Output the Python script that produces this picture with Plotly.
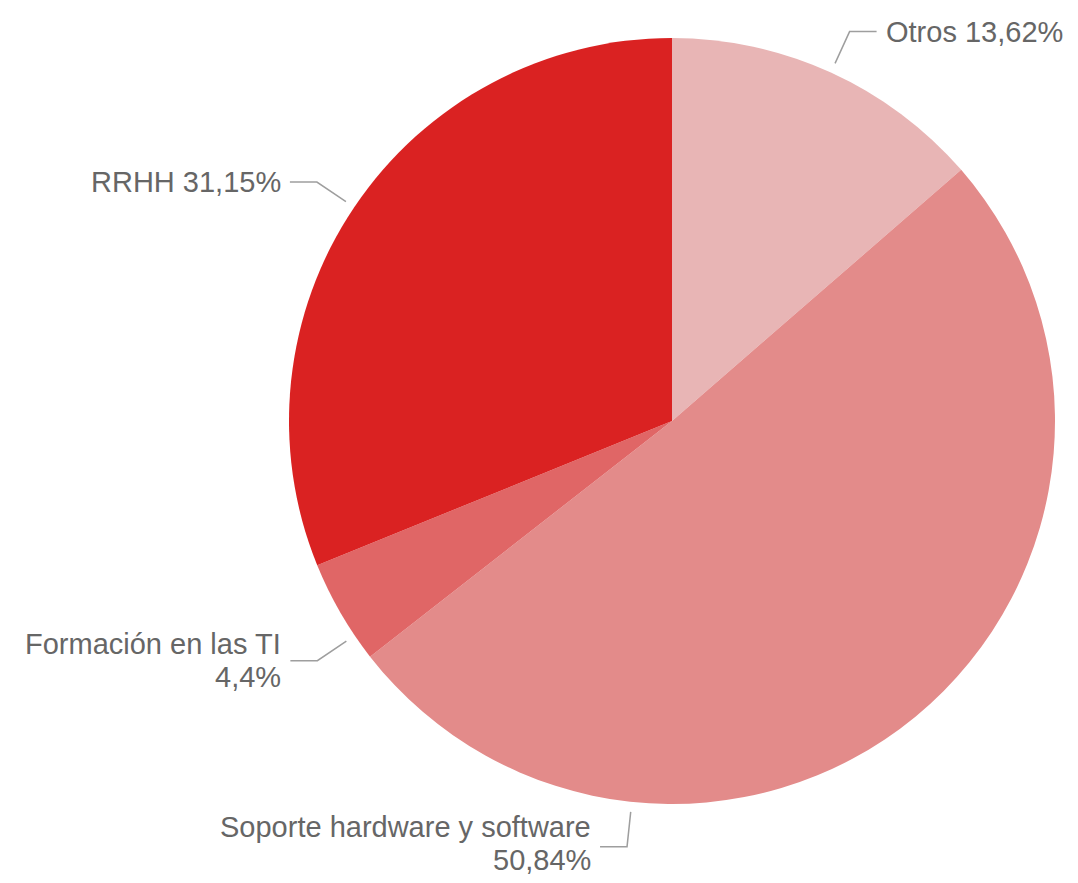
import math
import plotly.graph_objects as go

labels = ["Otros", "Soporte hardware y software", "Formación en las TI", "RRHH"]
values = [13.62, 50.84, 4.4, 31.15]
value_text = ["13,62%", "50,84%", "4,4%", "31,15%"]
colors = ["#e8b5b5", "#e38b8a", "#e06666", "#da2222"]
# label text layout: one line or two lines
label_lines = [1, 2, 2, 1]
# angular offset (degrees) of the leader line from the slice middle
label_angle_shift = [0, 45.5, -4, 0]
# small vertical nudge of the label text (px)
label_text_nudge = [0, -3, 0, 0]

PAGE_MARGIN = 8  # default body margin of the html page
W, H = 1078 - 2 * PAGE_MARGIN, 883 - 2 * PAGE_MARGIN
CX, CY, R = 672 - PAGE_MARGIN, 421 - PAGE_MARGIN, 383
LINE_GAP = 33
FONT = dict(family="Liberation Sans, Arial, sans-serif", size=29, color="#666666")

dom_x = [(CX - R) / W, (CX + R) / W]
dom_y = [1 - (CY + R) / H, 1 - (CY - R) / H]

fig = go.Figure(go.Pie(
    labels=labels, values=values, sort=False, direction="clockwise", rotation=0,
    marker=dict(colors=colors, line=dict(width=0)),
    textinfo="none", hoverinfo="label+percent", showlegend=False,
    domain=dict(x=dom_x, y=dom_y),
))

def px2paper(x, y):
    return x / W, 1 - y / H

total = sum(values)
cum = 0
shapes, annotations = [], []
for i, (lab, v) in enumerate(zip(labels, values)):
    mid = (cum + v / 2) / total * 360 + label_angle_shift[i]
    cum += v
    a = math.radians(mid)
    dx, dy = math.sin(a), -math.cos(a)
    x1, y1 = CX + (R + 10) * dx, CY + (R + 10) * dy
    x2, y2 = CX + (R + 45) * dx, CY + (R + 45) * dy
    side = 1 if dx > 0 else -1
    x3 = x2 + side * 27
    path_pts = [px2paper(x1, y1), px2paper(x2, y2), px2paper(x3, y2)]
    path = "M {} {} L {} {} L {} {}".format(*[c for p in path_pts for c in p])
    shapes.append(dict(type="path", xref="paper", yref="paper", path=path,
                       line=dict(color="#9e9e9e", width=1.5)))
    if label_lines[i] == 2:
        lines = [lab, value_text[i]]
    else:
        lines = [f"{lab} {value_text[i]}"]
    n = len(lines)
    for k, t in enumerate(lines):
        ly = y2 + label_text_nudge[i] + (k - (n - 1) / 2) * LINE_GAP
        tx, ty = px2paper(x3 + side * 7, ly)
        annotations.append(dict(
            x=tx, y=ty, xref="paper", yref="paper", text=t, showarrow=False,
            xanchor="left" if side > 0 else "right", yanchor="middle",
            font=FONT,
        ))

fig.update_layout(
    width=W, height=H, margin=dict(l=0, r=0, t=0, b=0),
    paper_bgcolor="white", plot_bgcolor="white",
    shapes=shapes, annotations=annotations,
)

fig.write_html("out.html")
